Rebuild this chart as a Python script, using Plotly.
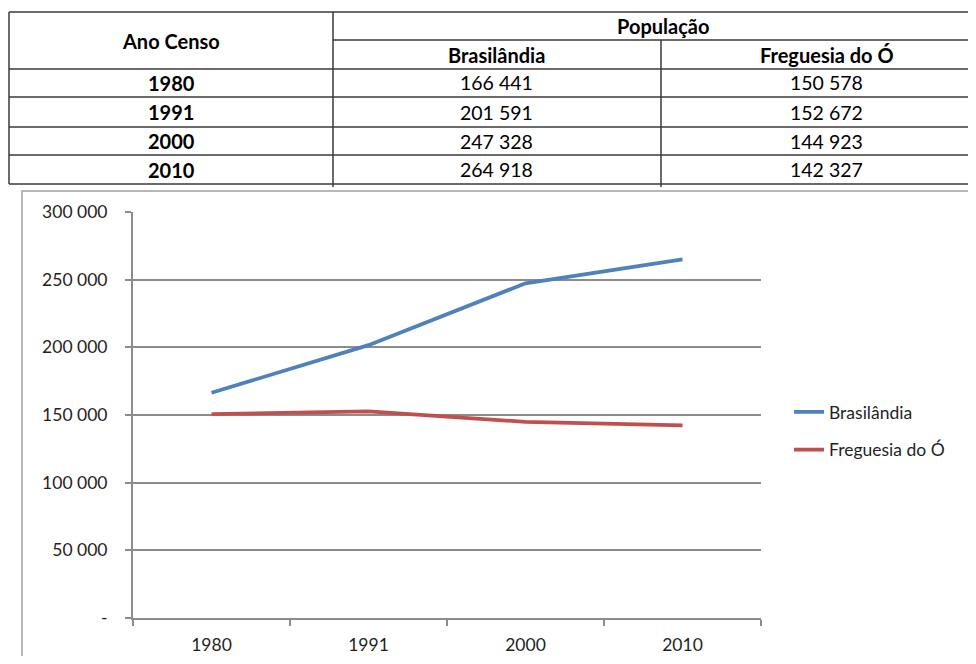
import plotly.graph_objects as go

# The page body has an 8px margin, so the figure is drawn at (8, 8)
OFF = 8
W, H = 976 - OFF, 664 - 2 * OFF

years = ["1980", "1991", "2000", "2010"]
brasilandia = [166441, 201591, 247328, 264918]
freguesia = [150578, 152672, 144923, 142327]
series_names = ["Brasilândia", "Freguesia do Ó"]
table_title_left = "Ano Censo"
table_title_group = "População"
y_tick_vals = [0, 50000, 100000, 150000, 200000, 250000, 300000]
y_tick_text = ["-", "50 000", "100 000", "150 000", "200 000", "250 000", "300 000"]

FONT = "Lato"
BLUE = "#4F81BD"
RED = "#C0504D"
GRID = "#8C8C8C"
TXT = "#1F1F1F"


def px(x):
    return (x - OFF) / W


def py(y):
    return 1 - (y - OFF) / H


def fmt(v):
    return f"{v:,}".replace(",", " ")


fig = go.Figure()
fig.add_trace(go.Scatter(x=years, y=brasilandia, mode="lines", name=series_names[0], legendgroup="a",
                         line=dict(color=BLUE, width=3.8)))
fig.add_trace(go.Scatter(x=years, y=freguesia, mode="lines", name=series_names[1], legendgroup="b",
                         line=dict(color=RED, width=3.8)))

shapes = []
annotations = []

# Table geometry (pixels in the page)
tx0, tx1, tx2, tx3 = 9, 333, 661, 992
row_lines = [12, 40, 69, 97, 127, 155, 184]
LC = "#3A3A3A"


def hline(x0, x1, y):
    shapes.append(dict(type="line", xref="paper", yref="paper", x0=px(x0), x1=px(x1),
                       y0=py(y), y1=py(y), line=dict(color=LC, width=1.5)))


def vline(x, y0, y1):
    shapes.append(dict(type="line", xref="paper", yref="paper", x0=px(x), x1=px(x),
                       y0=py(y0), y1=py(y1), line=dict(color=LC, width=1.5)))


hline(tx0, tx3, row_lines[0])
hline(tx1, tx3, row_lines[1])
for y in row_lines[2:]:
    hline(tx0, tx3, y)
vline(tx0, 12, 184)
vline(tx1, 12, 187)
vline(tx2, 40, 187)


def text(x, y, s, size=19.5, bold=False, color="black", xanchor="center"):
    annotations.append(dict(xref="paper", yref="paper", x=px(x), y=py(y), text=f"<b>{s}</b>" if bold else s,
                            showarrow=False, xanchor=xanchor, yanchor="middle",
                            font=dict(family=FONT, size=size, color=color)))


text((tx0 + tx1) / 2, 41, table_title_left, size=20, bold=True)
text((tx1 + tx3) / 2, 26, table_title_group, size=20, bold=True)
text((tx1 + tx2) / 2, 55, series_names[0], size=20, bold=True)
text((tx2 + tx3) / 2, 55, series_names[1], size=20, bold=True)
for i, yr in enumerate(years):
    yc = (row_lines[i + 2] + row_lines[i + 3]) / 2
    text((tx0 + tx1) / 2, yc, yr, size=20, bold=True)
    text((tx1 + tx2) / 2, yc, fmt(brasilandia[i]))
    text((tx2 + tx3) / 2, yc, fmt(freguesia[i]))

# chart frame
shapes.append(dict(type="rect", xref="paper", yref="paper", x0=px(22), x1=px(1000), y0=py(700), y1=py(191),
                   line=dict(color="#A0A0A0", width=1.5), fillcolor="rgba(0,0,0,0)", layer="below"))

fig.update_layout(
    width=W, height=H,
    margin=dict(l=0, r=0, t=0, b=0, pad=0, autoexpand=False),
    paper_bgcolor="white", plot_bgcolor="white",
    font=dict(family=FONT, color=TXT, size=17),
    showlegend=True,
    legend=dict(x=px(789), y=py(394), xanchor="left", yanchor="top",
                font=dict(family=FONT, size=17.5, color=TXT), tracegroupgap=12,
                bgcolor="rgba(0,0,0,0)", itemwidth=30),
    xaxis=dict(domain=[px(133), px(761)], type="category", range=[-0.5, 3.5], automargin=False,
               showgrid=False, showline=True, linecolor=GRID, linewidth=2,
               ticks="outside", tickson="boundaries", ticklen=6, tickcolor=GRID, tickwidth=1.5,
               ticklabelstandoff=10,
               tickfont=dict(family=FONT, size=17.5, color=TXT), zeroline=False, fixedrange=True),
    yaxis=dict(domain=[py(618), py(212)], range=[0, 300000], automargin=False,
               tickvals=y_tick_vals, ticktext=y_tick_text,
               showgrid=True, gridcolor=GRID, gridwidth=1.5,
               showline=True, linecolor=GRID, linewidth=2,
               ticks="outside", ticklen=6, tickcolor=GRID, tickwidth=1.5,
               ticklabelstandoff=14,
               tickfont=dict(family=FONT, size=17.5, color=TXT), zeroline=False, fixedrange=True),
    shapes=shapes,
    annotations=annotations,
)

fig.write_html("out.html")
